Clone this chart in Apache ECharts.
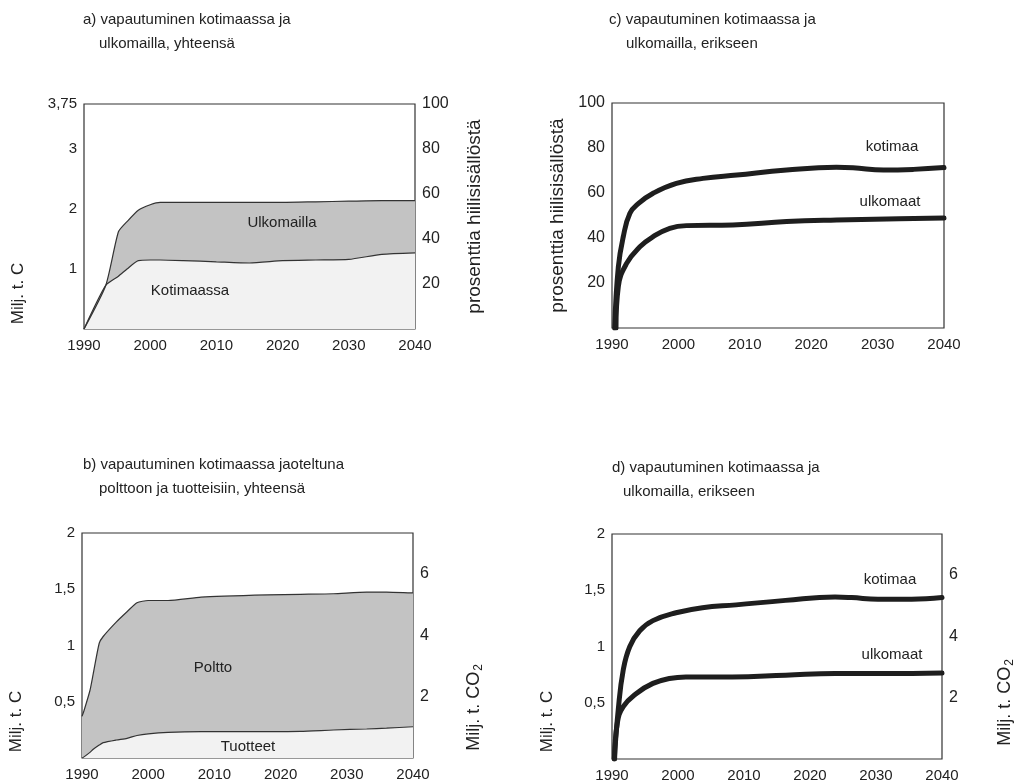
<!DOCTYPE html>
<html>
<head>
<meta charset="utf-8">
<script src="https://cdn.jsdelivr.net/npm/echarts@6/dist/echarts.min.js"></script>
<style>html,body{margin:0;padding:0;background:#fff}#c{width:1017px;height:783px}</style>
</head>
<body>
<div id="c"></div>
<script>
// ---- Panel a: areas (Milj. t. C) — upper boundary = total, lower boundary = domestic
const yearsA = [1990, 1993.3, 1995.2, 1996.5, 1998.2, 2000, 2001.5, 2005, 2010, 2015, 2020, 2025, 2030, 2035, 2040];
const yhteensaA = [0, 0.73, 1.62, 1.79, 1.98, 2.07, 2.11, 2.11, 2.11, 2.11, 2.11, 2.12, 2.13, 2.14, 2.14];
const kotimaassaA = [0, 0.73, 0.88, 1.0, 1.14, 1.15, 1.15, 1.14, 1.12, 1.10, 1.14, 1.15, 1.16, 1.245, 1.27];

// ---- Panel b: areas (Milj. t. C) — upper boundary = total (poltto + tuotteet), lower = tuotteet
const yearsB = [1990, 1990.3, 1991.2, 1991.7, 1992.6, 1993.2, 1995.2, 1996.8, 1998.3, 2000, 2003, 2008, 2018, 2023, 2028, 2033, 2036, 2040];
const yhteensaB = [0.37, 0.42, 0.60, 0.75, 1.02, 1.08, 1.21, 1.30, 1.38, 1.40, 1.40, 1.43, 1.45, 1.455, 1.46, 1.475, 1.475, 1.467];
const tuotteetB = [0, 0.01, 0.05, 0.077, 0.115, 0.136, 0.16, 0.175, 0.2, 0.215, 0.228, 0.234, 0.234, 0.236, 0.249, 0.258, 0.265, 0.278];

// ---- Panel c: lines (% of carbon content)
const kotimaaYearsC = [1990.4, 1990.95, 1991.7, 1992.7, 1994, 1996.2, 1999.7, 2003.7, 2008.8, 2016.3, 2023.8, 2026.3, 2030.9, 2035.4, 2040];
const kotimaaC = [0, 27, 40.6, 51, 55.4, 59.9, 64.3, 66.5, 68, 70.2, 71.4, 71.2, 70.2, 70.5, 71.3];
const ulkomaatYearsC = [1990.6, 1990.95, 1992.2, 1994.2, 1996.2, 1998.7, 2001.2, 2008.2, 2016.3, 2023.8, 2031.4, 2040];
const ulkomaatC = [0, 18.4, 28.7, 36.1, 40.6, 44.3, 45.5, 45.8, 47.3, 48, 48.4, 48.9];

// ---- Panel d: lines (Milj. t. C)
const kotimaaYearsD = [1990.35, 1990.95, 1991.7, 1992.7, 1994.2, 1996.2, 1999.7, 2003.7, 2008.8, 2016.3, 2023.8, 2026.3, 2030.3, 2035.4, 2040];
const kotimaaD = [0, 0.44, 0.79, 1.0, 1.14, 1.23, 1.30, 1.345, 1.37, 1.41, 1.44, 1.435, 1.42, 1.42, 1.435];
const ulkomaatYearsD = [1990.4, 1990.8, 1991.7, 1993.7, 1996.2, 1998.7, 2001.2, 2008.2, 2016.3, 2023.8, 2031.4, 2040];
const ulkomaatD = [0, 0.317, 0.465, 0.583, 0.672, 0.716, 0.73, 0.73, 0.745, 0.76, 0.76, 0.765];

// ---- axis scales / tick labels
const yearMin = 1990, yearMax = 2040, yearStep = 10;
const leftMaxA = 3.75, rightMaxA = 100;
const leftMaxBD = 2, co2PerC = 44 / 12;

const FONT = '"Liberation Sans", Arial, Helvetica, sans-serif';
const INK = '#222';
const DARK_FILL = '#c3c3c3';
const LIGHT_FILL = '#f2f2f2';

const zip = (xs, ys) => xs.map((x, i) => [x, ys[i]]);
const comma = v => String(v).replace('.', ',');

const grids = [
  { left: 84, top: 104, width: 331, height: 225 },   // a
  { left: 612, top: 103, width: 332, height: 225 },  // c
  { left: 82, top: 533, width: 331, height: 225 },   // b
  { left: 612, top: 534, width: 331, height: 225 }   // d
].map(g => Object.assign({ show: true, borderColor: '#333', borderWidth: 1.2, backgroundColor: 'transparent', containLabel: false }, g));

const xAxes = [0, 1, 2, 3].map(i => ({
  type: 'value', gridIndex: i, min: yearMin, max: yearMax, interval: yearStep,
  axisLine: { show: false }, axisTick: { show: false }, splitLine: { show: false },
  axisLabel: { color: INK, fontFamily: FONT, fontSize: 15, margin: 9, formatter: v => String(v) }
}));

// shift (px) moves a rotated axis name downward along the axis
const nameStyle = (size, shift) => ({ color: INK, fontFamily: FONT, fontSize: size,
  padding: [0, shift ? shift * 2 : 0, 0, 0] });
const co2Name = shift => ({ color: INK, fontFamily: FONT, fontSize: 18, padding: [0, shift * 2, 0, 0],
  rich: { s: { fontFamily: FONT, fontSize: 12, color: INK, padding: [9, 0, 0, 1] } } });
const baseY = {
  type: 'value', min: 0,
  axisLine: { show: false }, axisTick: { show: false }, splitLine: { show: false },
  nameLocation: 'middle'
};
const lab = (fmt, size) => ({ color: INK, fontFamily: FONT, fontSize: size || 15, margin: 7, formatter: fmt });

const yAxes = [
  // 0: a left
  Object.assign({}, baseY, { gridIndex: 0, max: leftMaxA, interval: 1, position: 'left',
    axisLabel: lab(v => v === 0 ? '' : comma(v)), name: 'Milj. t. C', nameGap: 57, nameTextStyle: nameStyle(17, 77) }),
  // 1: a right
  Object.assign({}, baseY, { gridIndex: 0, max: rightMaxA, interval: 20, position: 'right',
    axisLabel: lab(v => v === 0 ? '' : String(v), 16), name: 'prosenttia hiilisisällöstä', nameGap: 50, nameTextStyle: nameStyle(19, 0) }),
  // 2: c left
  Object.assign({}, baseY, { gridIndex: 1, max: 100, interval: 20, position: 'left',
    axisLabel: lab(v => v === 0 ? '' : String(v), 16), name: 'prosenttia hiilisisällöstä', nameGap: 45, nameTextStyle: nameStyle(19, 0) }),
  // 3: b left
  Object.assign({}, baseY, { gridIndex: 2, max: leftMaxBD, interval: 0.5, position: 'left',
    axisLabel: lab(v => v === 0 ? '' : comma(v)), name: 'Milj. t. C', nameGap: 57, nameTextStyle: nameStyle(17, 76) }),
  // 4: b right
  Object.assign({}, baseY, { gridIndex: 2, max: leftMaxBD * co2PerC, interval: 2, position: 'right',
    axisLabel: lab(v => (v === 0 || v % 2 !== 0) ? '' : String(v), 16), name: 'Milj. t. CO{s|2}', nameGap: 51, nameTextStyle: co2Name(62) }),
  // 5: d left
  Object.assign({}, baseY, { gridIndex: 3, max: leftMaxBD, interval: 0.5, position: 'left',
    axisLabel: lab(v => v === 0 ? '' : comma(v)), name: 'Milj. t. C', nameGap: 56, nameTextStyle: nameStyle(17, 75) }),
  // 6: d right
  Object.assign({}, baseY, { gridIndex: 3, max: leftMaxBD * co2PerC, interval: 2, position: 'right',
    axisLabel: lab(v => (v === 0 || v % 2 !== 0) ? '' : String(v), 16), name: 'Milj. t. CO{s|2}', nameGap: 53, nameTextStyle: co2Name(56) })
];

const areaSeries = (name, xi, yi, xs, ys, fill) => ({
  name, type: 'line', xAxisIndex: xi, yAxisIndex: yi, data: zip(xs, ys),
  symbol: 'none', smooth: 0.2,
  lineStyle: { color: '#333', width: 1.2 }, areaStyle: { color: fill, opacity: 1, origin: 'start' }
});
const thickLine = (name, xi, yi, xs, ys) => ({
  name, type: 'line', xAxisIndex: xi, yAxisIndex: yi, data: zip(xs, ys),
  symbol: 'none', smooth: 0.45,
  lineStyle: { color: '#1e1e1e', width: 5, cap: 'round', join: 'round' }
});

const series = [
  areaSeries('Ulkomailla', 0, 0, yearsA, yhteensaA, DARK_FILL),
  areaSeries('Kotimaassa', 0, 0, yearsA, kotimaassaA, LIGHT_FILL),
  thickLine('kotimaa (c)', 1, 2, kotimaaYearsC, kotimaaC),
  thickLine('ulkomaat (c)', 1, 2, ulkomaatYearsC, ulkomaatC),
  areaSeries('Poltto', 2, 3, yearsB, yhteensaB, DARK_FILL),
  areaSeries('Tuotteet', 2, 3, yearsB, tuotteetB, LIGHT_FILL),
  thickLine('kotimaa (d)', 3, 5, kotimaaYearsD, kotimaaD),
  thickLine('ulkomaat (d)', 3, 5, ulkomaatYearsD, ulkomaatD)
];

const titleLine = (text, left, top) => ({ text, left, top,
  textStyle: { color: INK, fontFamily: FONT, fontSize: 15, fontWeight: 'normal' } });
const titles = [
  titleLine('a) vapautuminen kotimaassa ja', 78, 7),
  titleLine('ulkomailla, yhteensä', 94, 31),
  titleLine('c) vapautuminen kotimaassa ja', 604, 7),
  titleLine('ulkomailla, erikseen', 621, 31),
  titleLine('b) vapautuminen kotimaassa jaoteltuna', 78, 452),
  titleLine('polttoon ja tuotteisiin, yhteensä', 94, 476),
  titleLine('d) vapautuminen kotimaassa ja', 607, 455),
  titleLine('ulkomailla, erikseen', 618, 479)
];

const note = (text, x, y) => ({ type: 'text', x, y,
  style: { text, fill: INK, font: '15px ' + FONT, textAlign: 'center', textVerticalAlign: 'middle' }, z: 100 });
const graphic = [
  note('Ulkomailla', 282, 223),
  note('Kotimaassa', 190, 291),
  note('Poltto', 213, 668),
  note('Tuotteet', 248, 747),
  note('kotimaa', 892, 147),
  note('ulkomaat', 890, 202),
  note('kotimaa', 890, 580),
  note('ulkomaat', 892, 655)
];

const chart = echarts.init(document.getElementById('c'), null, { renderer: 'canvas' });
chart.setOption({
  animation: false,
  backgroundColor: '#fff',
  title: titles,
  grid: grids,
  xAxis: xAxes,
  yAxis: yAxes,
  series,
  graphic
});
</script>
</body>
</html>
